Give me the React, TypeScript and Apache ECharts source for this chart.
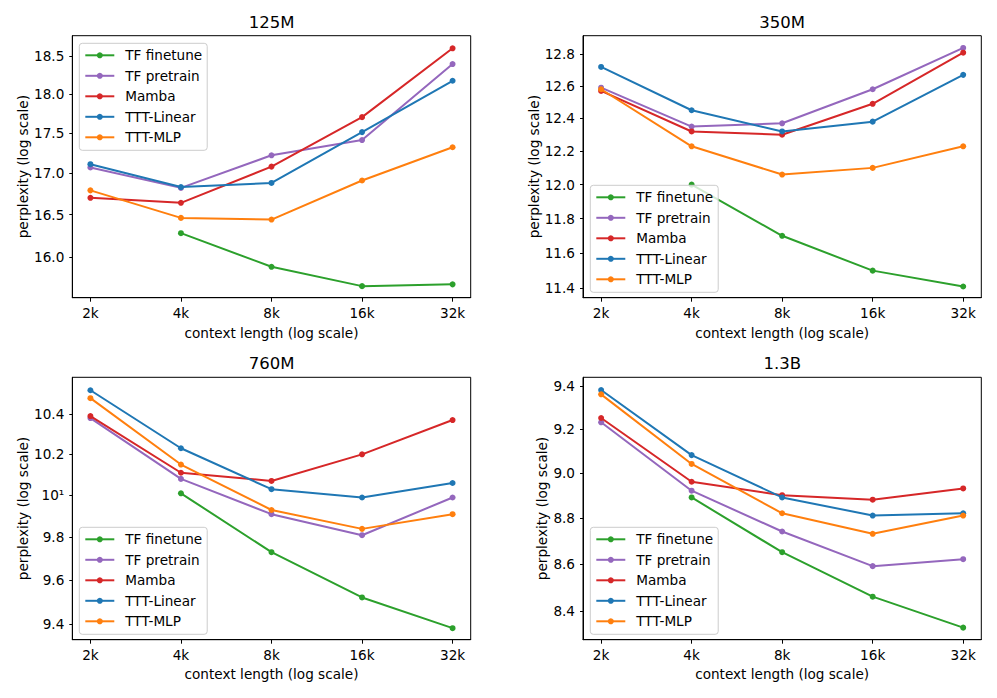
import React, { useEffect, useRef } from "react";
import * as echarts from "echarts";

// ---- data ----
const contextK = [2, 4, 8, 16, 32];
const contextLabels = ["2k", "4k", "8k", "16k", "32k"];
const seriesNames = ["TF finetune", "TF pretrain", "Mamba", "TTT-Linear", "TTT-MLP"];
const seriesColors = ["#2ca02c", "#9467bd", "#d62728", "#1f77b4", "#ff7f0e"];
const panelTitles = ["125M", "350M", "760M", "1.3B"];

// rows follow seriesNames order; null = no point
const ppl125M = [
  [null, 16.28, 15.89, 15.67, 15.69],
  [17.07, 16.82, 17.22, 17.41, 18.39],
  [16.7, 16.64, 17.08, 17.7, 18.6],
  [17.11, 16.83, 16.88, 17.51, 18.17],
  [16.79, 16.46, 16.44, 16.91, 17.32],
];
const ppl350M = [
  [null, 12.0, 11.7, 11.5, 11.41],
  [12.59, 12.35, 12.37, 12.58, 12.84],
  [12.57, 12.32, 12.3, 12.49, 12.81],
  [12.72, 12.45, 12.32, 12.38, 12.67],
  [12.58, 12.23, 12.06, 12.1, 12.23],
];
const ppl760M = [
  [null, 10.01, 9.73, 9.52, 9.38],
  [10.38, 10.08, 9.91, 9.81, 9.99],
  [10.39, 10.11, 10.07, 10.2, 10.37],
  [10.52, 10.23, 10.03, 9.99, 10.06],
  [10.48, 10.15, 9.93, 9.84, 9.91],
];
const ppl1_3B = [
  [null, 8.89, 8.65, 8.46, 8.33],
  [9.23, 8.92, 8.74, 8.59, 8.62],
  [9.25, 8.96, 8.9, 8.88, 8.93],
  [9.38, 9.08, 8.89, 8.81, 8.82],
  [9.36, 9.04, 8.82, 8.73, 8.81],
];

const yTicks125M = [16.0, 16.5, 17.0, 17.5, 18.0, 18.5];
const yTicks350M = [11.4, 11.6, 11.8, 12.0, 12.2, 12.4, 12.6, 12.8];
const yTicks760M = [9.4, 9.6, 9.8, 10, 10.2, 10.4];
const yTicks1_3B = [8.4, 8.6, 8.8, 9.0, 9.2, 9.4];

// ---- layout ----
const panels = [
  { data: ppl125M, ticks: yTicks125M, yMin: 15.54, yMax: 18.77, grid: { left: 72.3, top: 35.7, width: 398.4, height: 262 }, legend: { left: 79.3, top: 43.3 }, nameGap: 42, title: { x: 271.5, y: 22.3 } },
  { data: ppl350M, ticks: yTicks350M, yMin: 11.347, yMax: 12.918, grid: { left: 583, top: 35.7, width: 398.3, height: 262 }, legend: { left: 590.3, top: 185.3 }, nameGap: 42, title: { x: 782.2, y: 22.3 } },
  { data: ppl760M, ticks: yTicks760M, yMin: 9.328, yMax: 10.586, grid: { left: 72.3, top: 377.3, width: 398.4, height: 262.4 }, legend: { left: 79.3, top: 527.3 }, nameGap: 42, title: { x: 271.5, y: 363.3 } },
  { data: ppl1_3B, ticks: yTicks1_3B, yMin: 8.28, yMax: 9.44, grid: { left: 583, top: 377.3, width: 398.3, height: 262.4 }, legend: { left: 590.3, top: 527.3 }, nameGap: 34, title: { x: 782.2, y: 363.3 } },
];

const FONT = "DejaVu Sans";
const FS = 13.6;

function fmtY(v: number): string {
  if (Math.abs(v - 10) < 1e-6) return "10¹";
  return (Math.round(v * 10) / 10).toFixed(1);
}
function fmtX(v: number): string {
  let best = 0;
  for (let i = 1; i < contextK.length; i++) {
    if (Math.abs(contextK[i] - v) < Math.abs(contextK[best] - v)) best = i;
  }
  return contextLabels[best];
}

export default function App() {
  const ref = useRef<HTMLDivElement>(null);
  useEffect(() => {
    if (!ref.current) return;
    const chart = echarts.init(ref.current, null, { renderer: "svg" });
    const xMin = contextK[0] / Math.pow(2, 0.2);
    const xMax = contextK[contextK.length - 1] * Math.pow(2, 0.2);

    const grids: any[] = [];
    const xAxes: any[] = [];
    const yAxes: any[] = [];
    const legends: any[] = [];
    const series: any[] = [];
    const graphics: any[] = [];

    panels.forEach((p, pi) => {
      grids.push({ ...p.grid, show: true, borderColor: "#000", borderWidth: 1, backgroundColor: "transparent" });
      xAxes.push({
        type: "log",
        logBase: 2,
        gridIndex: pi,
        min: xMin,
        max: xMax,
        name: "context length (log scale)",
        nameLocation: "middle",
        nameGap: pi < 2 ? 28.5 : 27.5,
        nameTextStyle: { fontSize: FS, color: "#000", fontFamily: FONT },
        axisLine: { show: true, lineStyle: { color: "#000", width: 1 } },
        axisTick: { show: true, length: 4, lineStyle: { color: "#000" }, customValues: contextK },
        axisLabel: { customValues: contextK, formatter: (v: number) => fmtX(v), fontSize: FS, color: "#000", fontFamily: FONT, margin: 8 },
        splitLine: { show: false },
        minorTick: { show: false },
        minorSplitLine: { show: false },
      });
      yAxes.push({
        type: "log",
        logBase: 10,
        gridIndex: pi,
        min: p.yMin,
        max: p.yMax,
        name: "perplexity (log scale)",
        nameLocation: "middle",
        nameGap: p.nameGap,
        nameTextStyle: { fontSize: FS, color: "#000", fontFamily: FONT },
        axisLine: { show: true, lineStyle: { color: "#000", width: 1 } },
        axisTick: { show: true, length: 3, lineStyle: { color: "#000" }, customValues: p.ticks },
        axisLabel: { customValues: p.ticks, formatter: (v: number) => fmtY(v), fontSize: FS, color: "#000", fontFamily: FONT, margin: 8 },
        splitLine: { show: false },
        minorTick: { show: false },
        minorSplitLine: { show: false },
      });
      legends.push({
        data: seriesNames,
        orient: "vertical",
        left: p.legend.left,
        top: p.legend.top,
        itemWidth: 29,
        itemHeight: 7.5,
        itemGap: 6.5,
        padding: [5, 5, 6, 5],
        borderColor: "#cccccc",
        borderWidth: 1,
        borderRadius: 3,
        backgroundColor: "rgba(255,255,255,0.8)",
        textStyle: { fontSize: FS, color: "#000", fontFamily: FONT, lineHeight: FS, padding: [0, 0, 0, 6] },
        selectedMode: false,
      });
      p.data.forEach((vals, si) => {
        const pts: any[] = [];
        vals.forEach((v, i) => {
          if (v !== null) pts.push([contextK[i], v]);
        });
        series.push({
          type: "line",
          name: seriesNames[si],
          xAxisIndex: pi,
          yAxisIndex: pi,
          data: pts,
          symbol: "circle",
          symbolSize: 6,
          showSymbol: true,
          color: seriesColors[si],
          lineStyle: { color: seriesColors[si], width: 2 },
          itemStyle: { color: seriesColors[si] },
          emphasis: { disabled: true },
          z: 2 + si,
        });
      });
      graphics.push({
        type: "text",
        x: p.title.x,
        y: p.title.y,
        style: { text: panelTitles[pi], fontSize: 16.5, fontFamily: FONT, fill: "#000", textAlign: "center", textVerticalAlign: "middle" },
      });
    });

    chart.setOption({
      animation: false,
      textStyle: { fontFamily: FONT },
      grid: grids,
      xAxis: xAxes,
      yAxis: yAxes,
      legend: legends,
      series,
      graphic: graphics,
    });
    return () => chart.dispose();
  }, []);
  return <div ref={ref} style={{ position: "absolute", left: 0, top: 0, width: 997, height: 698 }} />;
}
